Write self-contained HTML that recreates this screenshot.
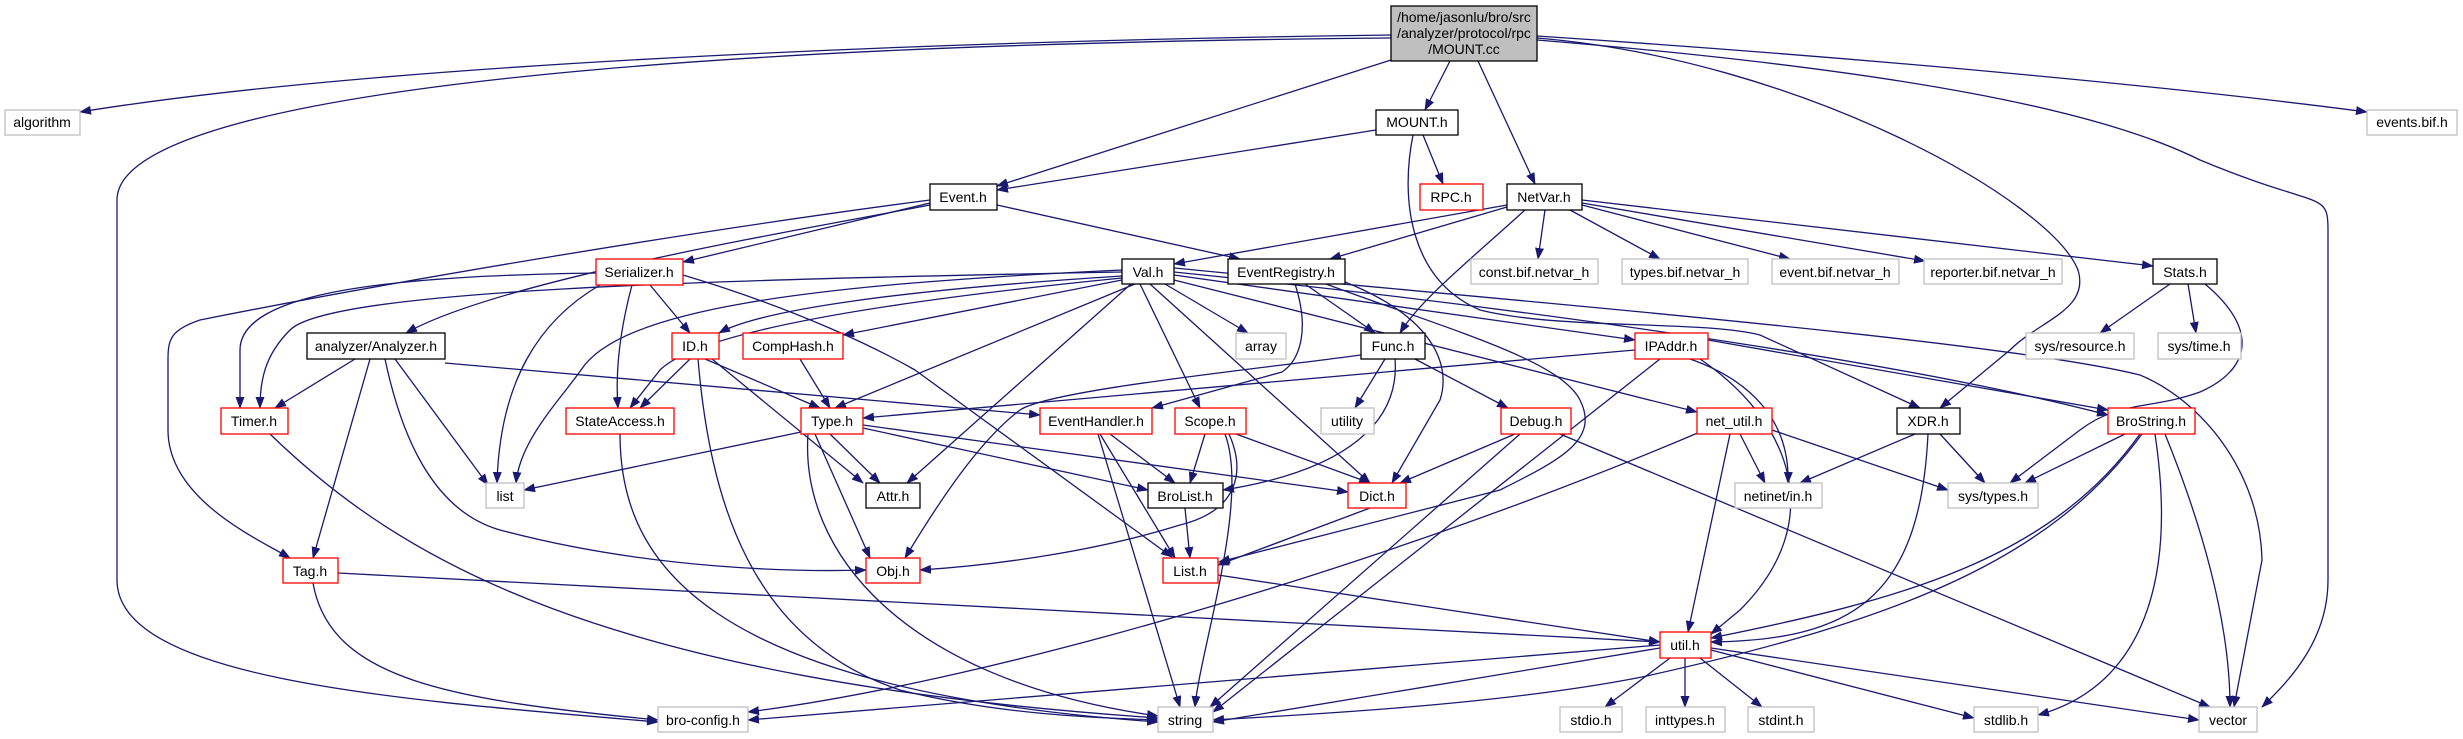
<!DOCTYPE html>
<html><head><meta charset="utf-8"><style>
html,body{margin:0;padding:0;background:#fff;}
svg{display:block;}
text{font-family:"Liberation Sans",Arial,sans-serif;font-size:14px;text-anchor:middle;fill:#000;}
.e{fill:none;stroke:#191970;stroke-width:1.3;marker-end:url(#a);}
.nb{fill:#fff;stroke:#000;stroke-width:1.3;}
.nr{fill:#fff;stroke:#ff0000;stroke-width:1.3;}
.ng{fill:#fff;stroke:#bfbfbf;stroke-width:1.3;}
</style></head><body>
<svg width="2463" height="739" viewBox="0 0 2463 739" xmlns="http://www.w3.org/2000/svg">
<defs><marker id="a" markerWidth="12" markerHeight="9" refX="11" refY="4.5" orient="auto" markerUnits="userSpaceOnUse"><path d="M0,0 L12,4.5 L0,9 z" fill="#191970"/></marker></defs>
<g>
<path class="e" d="M1391,35 C1000,40 400,60 80,112"/>
<path class="e" d="M1391,38 C600,45 117,100 117,200 L117,580 C117,680 400,700 658,722"/>
<path class="e" d="M1391,60 L997,186"/>
<path class="e" d="M1450,61 L1425,110"/>
<path class="e" d="M1478,61 L1535,184"/>
<path class="e" d="M1537,38 C1800,60 2050,200 2078,270 C2090,310 2040,320 2010,350 L1940,408"/>
<path class="e" d="M1537,36 C1900,60 2200,90 2367,112"/>
<path class="e" d="M1537,40 C1900,70 2100,110 2200,160 C2320,210 2328,190 2328,230 L2328,580 C2328,640 2290,680 2262,707"/>
<path class="e" d="M1376,130 L997,190"/>
<path class="e" d="M1423,135 L1443,184"/>
<path class="e" d="M1413,135 C1400,200 1410,280 1480,310 C1560,330 1700,320 1760,335 L1920,408"/>
<path class="e" d="M930,205 C800,230 500,280 406,333"/>
<path class="e" d="M930,203 L683,262"/>
<path class="e" d="M930,200 C700,230 400,280 200,320 C170,330 168,340 168,360 L168,430 C168,500 260,540 290,558"/>
<path class="e" d="M997,205 L1240,259"/>
<path class="e" d="M1507,205 L1174,264"/>
<path class="e" d="M1507,207 L1330,259"/>
<path class="e" d="M1525,210 C1470,260 1420,300 1400,333"/>
<path class="e" d="M1545,210 L1538,259"/>
<path class="e" d="M1570,210 L1660,259"/>
<path class="e" d="M1582,205 L1790,259"/>
<path class="e" d="M1582,203 L1925,261"/>
<path class="e" d="M1582,200 L2153,266"/>
<path class="e" d="M1305,284 L1375,333"/>
<path class="e" d="M1295,284 C1310,330 1300,360 1282,372 L1152,408"/>
<path class="e" d="M1345,282 C1440,320 1450,370 1440,400 L1392,483"/>
<path class="e" d="M1326,284 C1450,330 1560,360 1580,400 C1600,440 1560,460 1500,490 L1219,562"/>
<path class="e" d="M1122,276 C900,290 760,310 719,333"/>
<path class="e" d="M1122,272 C700,280 330,290 290,330 C265,355 260,380 260,408"/>
<path class="e" d="M596,273 C400,276 240,290 240,350 L240,408"/>
<path class="e" d="M1122,270 C800,285 620,310 581,370 C560,400 520,440 516,483"/>
<path class="e" d="M600,285 C540,320 500,380 497,483"/>
<path class="e" d="M650,285 L690,333"/>
<path class="e" d="M632,285 C620,330 615,370 618,408"/>
<path class="e" d="M683,275 C800,310 880,350 915,370 L1172,557"/>
<path class="e" d="M1122,278 C900,300 700,330 660,370 L630,408"/>
<path class="e" d="M1135,284 L835,408"/>
<path class="e" d="M1131,284 L907,483"/>
<path class="e" d="M1361,355 C1250,370 1050,390 1020,410 C980,440 940,500 905,558"/>
<path class="e" d="M1229,434 C1245,470 1240,510 1180,525 C1100,550 1000,565 920,570"/>
<path class="e" d="M1140,284 L1200,408"/>
<path class="e" d="M1150,284 L1370,483"/>
<path class="e" d="M1165,284 L1248,333"/>
<path class="e" d="M1560,434 L2210,707"/>
<path class="e" d="M1174,268 C1500,300 2000,340 2140,375 C2200,400 2260,470 2262,560 L2234,707"/>
<path class="e" d="M1174,272 C1500,305 1900,360 2108,415"/>
<path class="e" d="M1174,275 L1635,340"/>
<path class="e" d="M1174,280 L1697,412"/>
<path class="e" d="M1122,280 L843,335"/>
<path class="e" d="M690,359 L640,408"/>
<path class="e" d="M705,359 L820,408"/>
<path class="e" d="M712,359 L863,483"/>
<path class="e" d="M698,359 C710,500 750,640 900,690 C1000,715 1100,718 1158,720"/>
<path class="e" d="M800,359 L830,408"/>
<path class="e" d="M355,359 L275,408"/>
<path class="e" d="M395,359 L488,485"/>
<path class="e" d="M370,359 L313,558"/>
<path class="e" d="M385,359 C400,430 430,510 500,530 C650,570 800,572 866,570"/>
<path class="e" d="M445,363 L1040,415"/>
<path class="e" d="M270,434 C400,560 600,680 1158,718"/>
<path class="e" d="M620,434 C620,560 700,690 1158,722"/>
<path class="e" d="M801,432 L524,490"/>
<path class="e" d="M830,434 L880,483"/>
<path class="e" d="M815,434 L870,558"/>
<path class="e" d="M863,428 L1148,490"/>
<path class="e" d="M863,425 L1348,492"/>
<path class="e" d="M808,434 C800,550 900,680 1158,716"/>
<path class="e" d="M1110,434 L1175,483"/>
<path class="e" d="M1100,434 L1175,558"/>
<path class="e" d="M1098,434 L1180,707"/>
<path class="e" d="M1205,434 L1190,483"/>
<path class="e" d="M1236,434 L1370,483"/>
<path class="e" d="M1225,434 C1250,500 1200,650 1195,707"/>
<path class="e" d="M1385,359 L1355,408"/>
<path class="e" d="M1415,359 L1508,408"/>
<path class="e" d="M1395,359 C1400,420 1350,470 1223,490"/>
<path class="e" d="M1515,434 L1400,483"/>
<path class="e" d="M1520,434 L1210,707"/>
<path class="e" d="M1635,350 L863,418"/>
<path class="e" d="M1708,340 L2108,410"/>
<path class="e" d="M1690,359 C1750,380 1790,420 1788,483"/>
<path class="e" d="M1700,359 C1790,420 1830,520 1740,610 L1711,634"/>
<path class="e" d="M1660,359 L1213,712"/>
<path class="e" d="M1740,434 L1765,483"/>
<path class="e" d="M1772,430 L1948,490"/>
<path class="e" d="M1730,434 L1688,632"/>
<path class="e" d="M1700,432 C1400,560 1000,680 748,712"/>
<path class="e" d="M1915,434 L1800,483"/>
<path class="e" d="M1940,434 L1985,483"/>
<path class="e" d="M1928,434 C1920,600 1850,640 1711,642"/>
<path class="e" d="M2125,434 L2025,483"/>
<path class="e" d="M2140,434 C2050,560 1900,600 1711,638"/>
<path class="e" d="M2142,434 C2050,560 1900,620 1642,677 C1500,705 1300,715 1213,720"/>
<path class="e" d="M2155,434 C2180,600 2130,690 2038,715"/>
<path class="e" d="M2165,434 C2200,520 2230,620 2230,707"/>
<path class="e" d="M2170,284 L2100,333"/>
<path class="e" d="M2188,284 L2196,333"/>
<path class="e" d="M2205,284 C2260,330 2250,370 2200,392 C2150,410 2120,400 2080,430 L2010,483"/>
<path class="e" d="M1370,508 L1218,565"/>
<path class="e" d="M1185,508 L1190,558"/>
<path class="e" d="M338,573 L1660,642"/>
<path class="e" d="M313,583 C330,680 450,700 658,720"/>
<path class="e" d="M1218,575 L1660,642"/>
<path class="e" d="M1660,645 L748,720"/>
<path class="e" d="M1660,648 L1213,722"/>
<path class="e" d="M1670,658 L1605,707"/>
<path class="e" d="M1685,658 L1685,707"/>
<path class="e" d="M1700,658 L1762,707"/>
<path class="e" d="M1711,650 L1974,718"/>
<path class="e" d="M1711,648 L2199,720"/>
</g>
<g>
<rect x="1391" y="6" width="146" height="55" fill="#bfbfbf" stroke="#000" stroke-width="1.3"/>
<text x="1464" y="22">/home/jasonlu/bro/src</text>
<text x="1464" y="38">/analyzer/protocol/rpc</text>
<text x="1464" y="54">/MOUNT.cc</text>

<rect class="ng" x="5" y="110" width="75" height="25"/><text x="42" y="127">algorithm</text>
<rect class="nb" x="1376" y="110" width="82" height="25"/><text x="1417" y="127">MOUNT.h</text>
<rect class="ng" x="2367" y="110" width="90" height="25"/><text x="2412" y="127">events.bif.h</text>
<rect class="nb" x="930" y="184" width="67" height="26"/><text x="963" y="202">Event.h</text>
<rect class="nr" x="1420" y="184" width="63" height="26"/><text x="1451" y="202">RPC.h</text>
<rect class="nb" x="1507" y="184" width="75" height="26"/><text x="1544" y="202">NetVar.h</text>
<rect class="nr" x="596" y="259" width="87" height="26"/><text x="639" y="277">Serializer.h</text>
<rect class="nb" x="1122" y="259" width="52" height="25"/><text x="1148" y="277">Val.h</text>
<rect class="nb" x="1228" y="259" width="117" height="25"/><text x="1286" y="277">EventRegistry.h</text>
<rect class="ng" x="1471" y="259" width="127" height="25"/><text x="1534" y="277">const.bif.netvar_h</text>
<rect class="ng" x="1622" y="259" width="126" height="25"/><text x="1685" y="277">types.bif.netvar_h</text>
<rect class="ng" x="1772" y="259" width="127" height="25"/><text x="1835" y="277">event.bif.netvar_h</text>
<rect class="ng" x="1924" y="259" width="138" height="25"/><text x="1993" y="277">reporter.bif.netvar_h</text>
<rect class="nb" x="2153" y="259" width="64" height="25"/><text x="2185" y="277">Stats.h</text>
<rect class="nb" x="307" y="333" width="138" height="26"/><text x="376" y="351">analyzer/Analyzer.h</text>
<rect class="nr" x="672" y="333" width="47" height="26"/><text x="695" y="351">ID.h</text>
<rect class="nr" x="743" y="333" width="100" height="26"/><text x="793" y="351">CompHash.h</text>
<rect class="ng" x="1236" y="333" width="50" height="26"/><text x="1261" y="351">array</text>
<rect class="nb" x="1361" y="333" width="64" height="26"/><text x="1393" y="351">Func.h</text>
<rect class="nr" x="1635" y="333" width="73" height="26"/><text x="1671" y="351">IPAddr.h</text>
<rect class="ng" x="2026" y="333" width="108" height="26"/><text x="2080" y="351">sys/resource.h</text>
<rect class="ng" x="2158" y="333" width="83" height="26"/><text x="2199" y="351">sys/time.h</text>
<rect class="nr" x="221" y="408" width="67" height="26"/><text x="254" y="426">Timer.h</text>
<rect class="nr" x="566" y="408" width="108" height="26"/><text x="620" y="426">StateAccess.h</text>
<rect class="nr" x="801" y="408" width="62" height="26"/><text x="832" y="426">Type.h</text>
<rect class="nr" x="1040" y="408" width="112" height="26"/><text x="1096" y="426">EventHandler.h</text>
<rect class="nr" x="1175" y="408" width="71" height="26"/><text x="1210" y="426">Scope.h</text>
<rect class="ng" x="1321" y="408" width="53" height="26"/><text x="1347" y="426">utility</text>
<rect class="nr" x="1501" y="408" width="70" height="26"/><text x="1536" y="426">Debug.h</text>
<rect class="nr" x="1697" y="408" width="75" height="26"/><text x="1734" y="426">net_util.h</text>
<rect class="nb" x="1897" y="408" width="63" height="26"/><text x="1928" y="426">XDR.h</text>
<rect class="nr" x="2108" y="408" width="87" height="26"/><text x="2151" y="426">BroString.h</text>
<rect class="ng" x="486" y="483" width="38" height="25"/><text x="505" y="501">list</text>
<rect class="nb" x="866" y="483" width="54" height="25"/><text x="893" y="501">Attr.h</text>
<rect class="nb" x="1148" y="483" width="75" height="25"/><text x="1185" y="501">BroList.h</text>
<rect class="nr" x="1348" y="483" width="58" height="25"/><text x="1377" y="501">Dict.h</text>
<rect class="ng" x="1735" y="483" width="87" height="25"/><text x="1778" y="501">netinet/in.h</text>
<rect class="ng" x="1948" y="483" width="90" height="25"/><text x="1993" y="501">sys/types.h</text>
<rect class="nr" x="283" y="558" width="55" height="25"/><text x="310" y="576">Tag.h</text>
<rect class="nr" x="866" y="558" width="54" height="25"/><text x="893" y="576">Obj.h</text>
<rect class="nr" x="1163" y="558" width="55" height="25"/><text x="1190" y="576">List.h</text>
<rect class="nr" x="1660" y="632" width="51" height="26"/><text x="1685" y="650">util.h</text>
<rect class="ng" x="658" y="707" width="90" height="25"/><text x="703" y="725">bro-config.h</text>
<rect class="ng" x="1158" y="707" width="55" height="25"/><text x="1185" y="725">string</text>
<rect class="ng" x="1560" y="707" width="62" height="25"/><text x="1591" y="725">stdio.h</text>
<rect class="ng" x="1646" y="707" width="79" height="25"/><text x="1685" y="725">inttypes.h</text>
<rect class="ng" x="1748" y="707" width="66" height="25"/><text x="1781" y="725">stdint.h</text>
<rect class="ng" x="1974" y="707" width="64" height="25"/><text x="2006" y="725">stdlib.h</text>
<rect class="ng" x="2199" y="707" width="58" height="25"/><text x="2228" y="725">vector</text>
</g>
</svg>
</body></html>
